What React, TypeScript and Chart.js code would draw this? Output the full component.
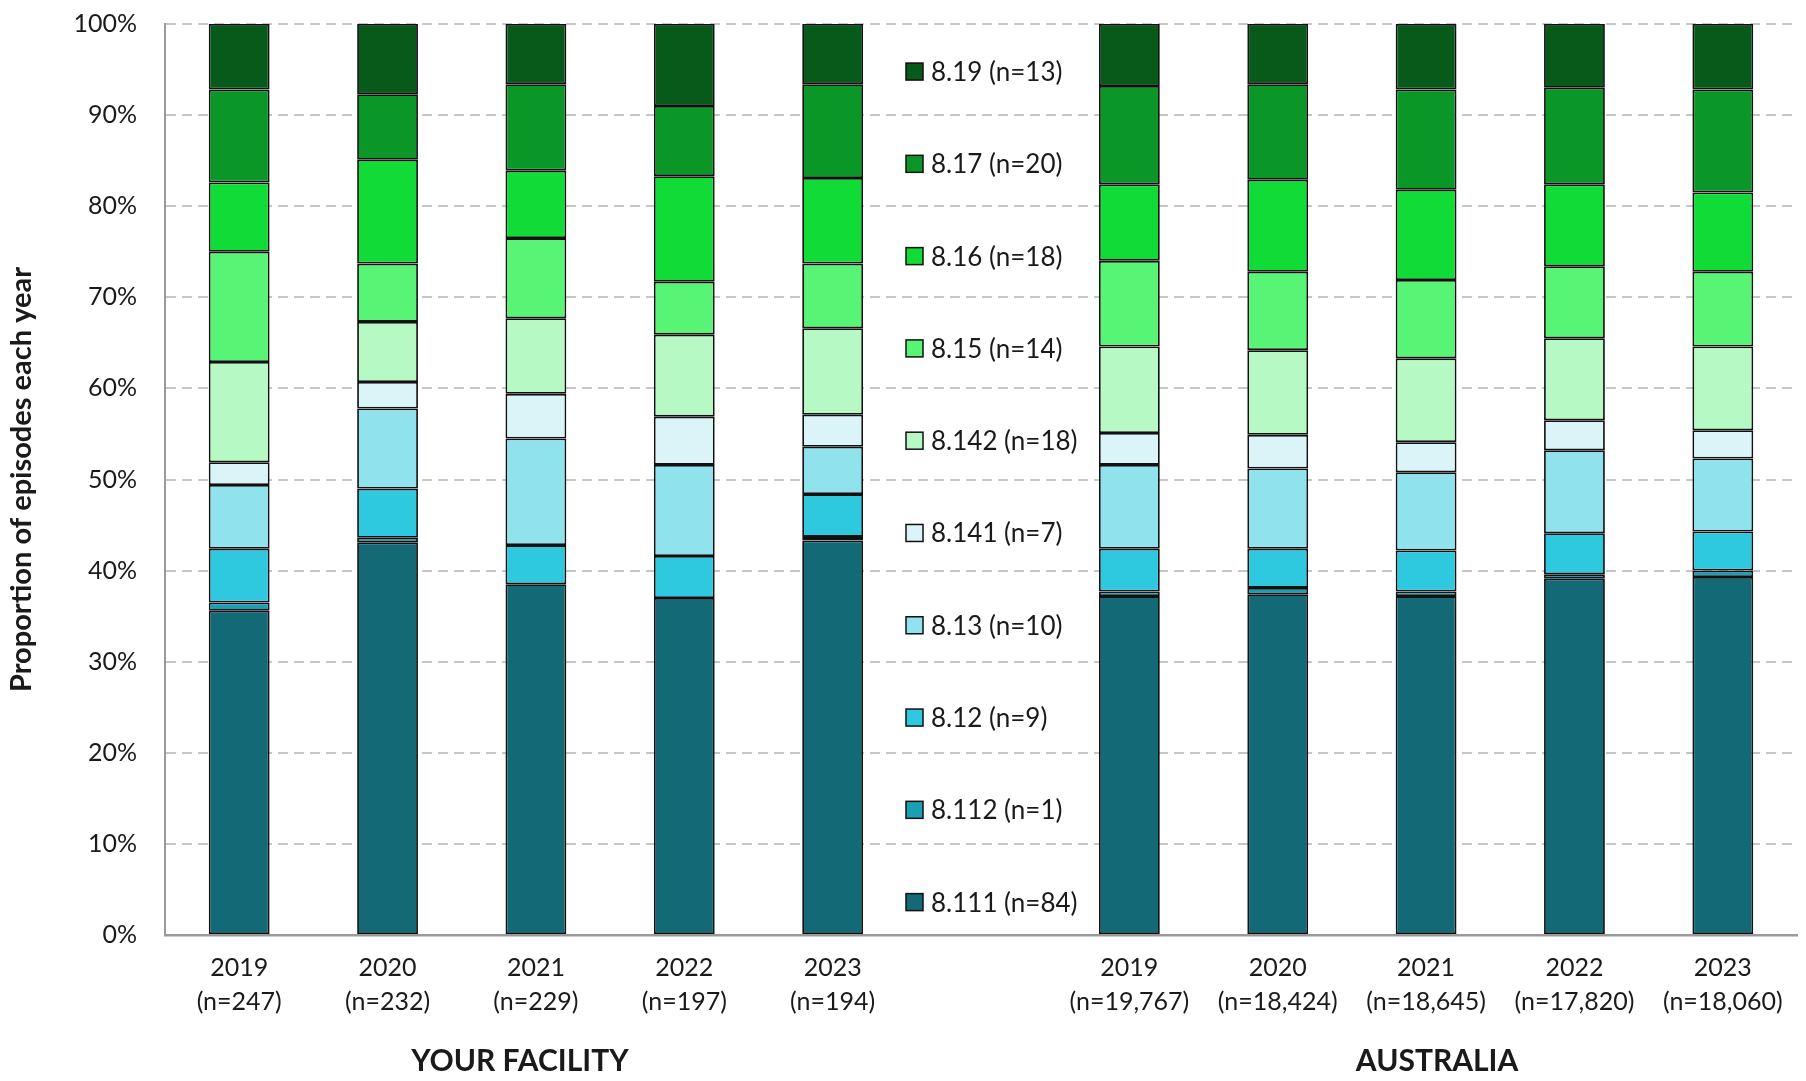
import React, { useEffect, useRef } from 'react';
import { Chart, registerables } from 'chart.js';

Chart.register(...registerables);

// ---------- data ----------
const categories = ['2019', '2020', '2021', '2022', '2023', '', '2019', '2020', '2021', '2022', '2023'];
const sampleSizes = ['(n=247)', '(n=232)', '(n=229)', '(n=197)', '(n=194)', '', '(n=19,767)', '(n=18,424)', '(n=18,645)', '(n=17,820)', '(n=18,060)'];
const groupTitles = ['YOUR FACILITY', 'AUSTRALIA'];
const facilityIdx = [0, 1, 2, 3, 4];
const australiaIdx = [6, 7, 8, 9, 10];
const legendColumn = 5;

const seriesLabels = ['8.111', '8.112', '8.12', '8.13', '8.141', '8.142', '8.15', '8.16', '8.17', '8.19'];
const seriesCounts = [84, 1, 9, 10, 7, 18, 14, 18, 20, 13];
const seriesColors = ['#146976', '#1c9fb4', '#2ec9df', '#90e2ec', '#dbf4f7', '#b6f9c5', '#58f475', '#11db37', '#0b9628', '#075a19'];

// percentages per category (null = legend gap)
const s8111 = [35.6, 43.1, 38.5, 37.0, 43.3, null, 37.2, 37.4, 37.2, 39.1, 39.3];
const s8112 = [0.9, 0.5, 0, 0, 0.4, null, 0.5, 0.7, 0.5, 0.5, 0.7];
const s812 = [5.9, 5.4, 4.3, 4.6, 4.7, null, 4.7, 4.3, 4.5, 4.5, 4.3];
const s813 = [7.0, 8.8, 11.7, 10.0, 5.2, null, 9.2, 8.8, 8.6, 9.1, 8.0];
const s8141 = [2.5, 2.9, 4.9, 5.3, 3.5, null, 3.5, 3.7, 3.3, 3.3, 3.1];
const s8142 = [11.0, 6.6, 8.3, 9.0, 9.5, null, 9.5, 9.3, 9.2, 9.0, 9.2];
const s815 = [12.1, 6.4, 8.8, 5.8, 7.1, null, 9.4, 8.6, 8.6, 7.9, 8.2];
const s816 = [7.6, 11.4, 7.4, 11.6, 9.4, null, 8.4, 10.1, 9.9, 9.0, 8.7];
const s817 = [10.2, 7.2, 9.5, 7.7, 10.3, null, 10.8, 10.5, 11.0, 10.6, 11.3];
const s819 = [7.2, 7.7, 6.6, 9.0, 6.6, null, 6.8, 6.6, 7.2, 7.0, 7.2];
const seriesValues = [s8111, s8112, s812, s813, s8141, s8142, s815, s816, s817, s819];

const yTicks = [0, 10, 20, 30, 40, 50, 60, 70, 80, 90, 100];
const yTitle = 'Proportion of episodes each year';

const FONT = 'Lato, "Open Sans", sans-serif';
const TEXT = '#1a1a1a';

const legendPlugin = {
  id: 'sideLegend',
  afterDatasetsDraw(chart: any) {
    const { ctx, chartArea, scales } = chart;
    const h = chartArea.bottom - chartArea.top;
    const cx = scales.x.getPixelForValue(legendColumn);
    ctx.save();
    ctx.font = `26px ${FONT}`;
    ctx.textBaseline = 'middle';
    ctx.textAlign = 'left';
    for (let i = 0; i < seriesLabels.length; i++) {
      const si = seriesLabels.length - 1 - i;
      const y = chartArea.top + h * (0.0522 + i * 0.1013);
      const sx = cx - 75;
      ctx.fillStyle = seriesColors[si];
      ctx.fillRect(sx, y - 8.5, 17, 17);
      ctx.lineWidth = 1.5;
      ctx.strokeStyle = '#111';
      ctx.strokeRect(sx, y - 8.5, 17, 17);
      ctx.fillStyle = TEXT;
      ctx.fillText(`${seriesLabels[si]} (n=${seriesCounts[si]})`, sx + 25, y + 1);
    }
    ctx.restore();
  },
};

const groupPlugin = {
  id: 'groupTitles',
  afterDraw(chart: any) {
    const { ctx, scales } = chart;
    const avg = (idx: number[]) => idx.reduce((a, i) => a + scales.x.getPixelForValue(i), 0) / idx.length;
    ctx.save();
    ctx.font = `bold 30px ${FONT}`;
    ctx.fillStyle = TEXT;
    ctx.textAlign = 'center';
    ctx.textBaseline = 'middle';
    ctx.fillText(groupTitles[0], avg(facilityIdx) - 16, 1061);
    ctx.fillText(groupTitles[1], avg(australiaIdx) + 11, 1061);
    ctx.restore();
  },
};

export default function App() {
  const ref = useRef<HTMLCanvasElement | null>(null);

  useEffect(() => {
    if (!ref.current) return;
    const chart = new Chart(ref.current, {
      type: 'bar',
      data: {
        labels: categories.map((c, i) => (c ? [c, sampleSizes[i]] : '')),
        datasets: seriesLabels.map((lab, i) => ({
          label: `${lab} (n=${seriesCounts[i]})`,
          data: seriesValues[i],
          backgroundColor: seriesColors[i],
          borderColor: '#111',
          borderWidth: 1.8,
          borderSkipped: false,
        })),
      },
      options: {
        animation: false,
        responsive: false,
        maintainAspectRatio: false,
        layout: { padding: { left: 0, right: 9, top: 24, bottom: 0 } },
        datasets: { bar: { barPercentage: 1, categoryPercentage: 0.41 } },
        plugins: {
          legend: { display: false },
          tooltip: { enabled: false },
        },
        scales: {
          x: {
            stacked: true,
            grid: { display: false, drawTicks: false },
            border: { display: true, color: '#9a9a9a', width: 2.5 },
            ticks: {
              autoSkip: false,
              maxRotation: 0,
              padding: 16,
              color: TEXT,
              font: { family: FONT, size: 25, lineHeight: 1.36 },
            },
            afterFit: (s: any) => { s.height = 146; s.paddingLeft = 0; s.paddingRight = 0; },
          },
          y: {
            stacked: true,
            min: 0,
            max: 100,
            afterBuildTicks: (s: any) => { s.ticks = yTicks.map((v) => ({ value: v })); },
            ticks: {
              padding: 28,
              color: TEXT,
              font: { family: FONT, size: 25 },
              callback: (v: any) => `${v}%`,
            },
            grid: { color: '#c6c6c6', lineWidth: 2, drawTicks: false },
            border: { display: true, color: '#9a9a9a', width: 2, dash: [10, 6] },
            title: {
              display: true,
              text: yTitle,
              color: TEXT,
              font: { family: FONT, size: 29, weight: 'bold' },
              padding: { top: 4, bottom: 0 },
            },
            afterFit: (s: any) => { s.width = 165; s.paddingTop = 0; s.paddingBottom = 0; },
          },
        },
      },
      plugins: [legendPlugin, groupPlugin],
    });
    return () => chart.destroy();
  }, []);

  return (
    <div style={{ position: 'absolute', left: 0, top: 0, width: 1806, height: 1081, background: '#fff' }}>
      <canvas ref={ref} width={1806} height={1081} style={{ display: 'block' }} />
    </div>
  );
}
